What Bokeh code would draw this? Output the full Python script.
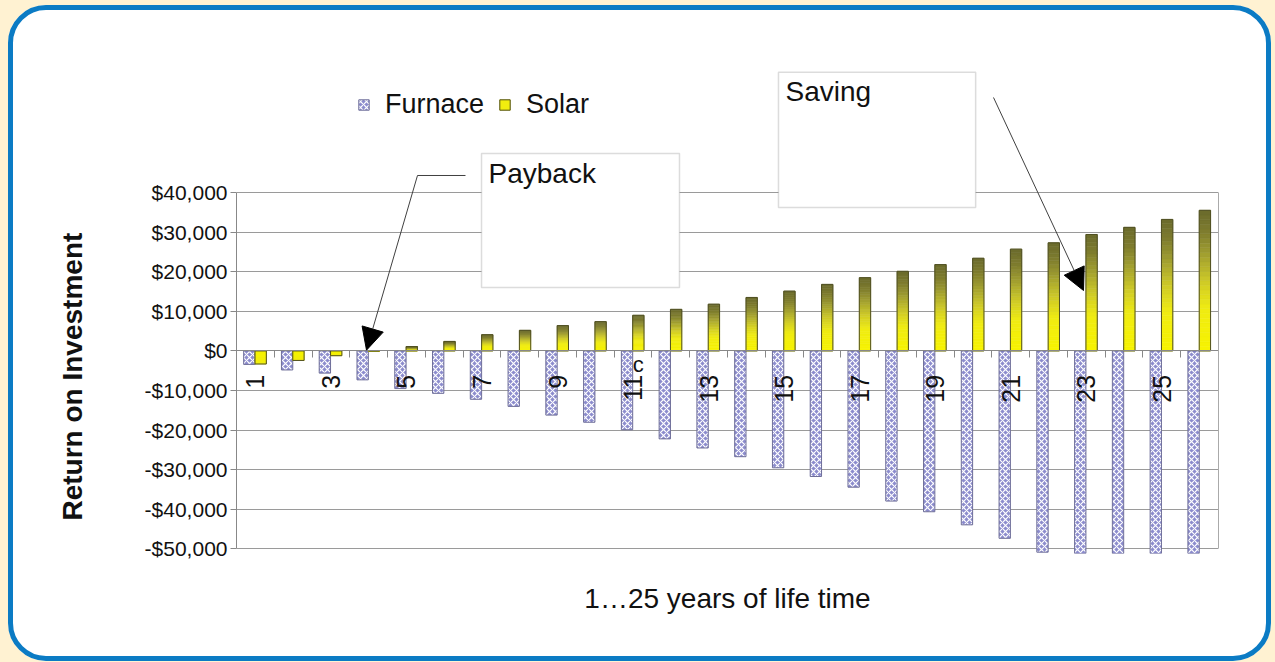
import math
from bokeh.plotting import figure
from bokeh.models import (Range1d, FixedTicker, LinearAxis, Label, BoxAnnotation, Title,
                          Arrow, NormalHead, Legend, LegendItem, ColumnDataSource,
                          InlineStyleSheet)
from bokeh.embed import file_html
from bokeh.resources import INLINE

# ---------------- data ----------------
years = list(range(1, 27))
furnace = [-3400, -4800, -5600, -7300, -9500, -10700, -12200, -14000, -16200, -18000,
           -19900, -22200, -24500, -26700, -29500, -31700, -34400, -37900, -40600, -43900,
           -47300, -50800, -54200, -57600, -61000, -64500]
solar = [-3300, -2400, -1200, 0, 1100, 2400, 4100, 5200, 6400, 7400,
         9000, 10500, 11800, 13500, 15100, 16800, 18500, 20100, 21800, 23400,
         25700, 27300, 29400, 31200, 33200, 35500]
x_tick_values = [1, 3, 5, 7, 9, 11, 13, 15, 17, 19, 21, 23, 25]
x_tick_labels = ["1", "3", "5", "7", "9", "11", "13", "15", "17", "19", "21", "23", "25"]
y_tick_values = [-50000, -40000, -30000, -20000, -10000, 0, 10000, 20000, 30000, 40000]
y_tick_labels = ["-$50,000", "-$40,000", "-$30,000", "-$20,000", "-$10,000", "$0",
                 "$10,000", "$20,000", "$30,000", "$40,000"]
series_names = ["Furnace", "Solar"]
x_title = "1\u202625 years of life time"
y_title = "Return on Investment"

FONT = "Liberation Sans"

# ---------------- figure ----------------
W, H = 1275, 662
p = figure(width=W, height=H, title=None,
           x_range=Range1d(0.5, 26.5), y_range=Range1d(-51137, 80897),
           output_backend="svg", toolbar_location=None,
           min_border_left=236, min_border_right=57, min_border_top=30, min_border_bottom=109)
p.background_fill_color = "white"
p.border_fill_color = "white"
p.outline_line_color = None
p.stylesheets = [InlineStyleSheet(css="""
:host::after {
  content: "";
  position: absolute;
  left: 8px; top: 5px; right: 4px; bottom: 1px;
  box-sizing: border-box;
  border: 5px solid #0b7bc4;
  border-radius: 38px;
  box-shadow: 0 0 0 40px #fff2d2;
  pointer-events: none;
  z-index: 100;
}
""")]

# y axis
yax = p.yaxis[0]
yax.ticker = FixedTicker(ticks=y_tick_values, minor_ticks=[])
yax.major_label_overrides = {v: s for v, s in zip(y_tick_values, y_tick_labels)}
yax.bounds = (-50000, 40000)
yax.major_label_text_font = FONT
yax.major_label_text_font_size = "21px"
yax.major_label_text_color = "#111111"
yax.major_tick_out = 6
yax.major_tick_in = 0
yax.major_tick_line_color = "#888888"
yax.axis_line_color = "#888888"
yax.major_label_standoff = 3

# grid
p.xgrid.visible = False
p.ygrid.ticker = FixedTicker(ticks=y_tick_values, minor_ticks=[])
p.ygrid.grid_line_color = "#9a9a9a"
p.ygrid.grid_line_width = 1

# x axis fixed at zero
xax = p.xaxis[0]
xax.fixed_location = 0
xax.ticker = FixedTicker(ticks=x_tick_values, minor_ticks=[y + 0.5 for y in years[:-1]])
xax.major_label_overrides = {v: s for v, s in zip(x_tick_values, x_tick_labels)}
xax.major_label_orientation = math.pi / 2
xax.major_label_text_font = FONT
xax.major_label_text_font_size = "25px"
xax.major_label_text_color = "#111111"
xax.major_label_standoff = 17
xax.major_tick_line_color = None
xax.major_tick_out = 0
xax.major_tick_in = 0
xax.minor_tick_line_color = "#888888"
xax.minor_tick_out = 7
xax.minor_tick_in = 0
xax.axis_line_color = "#888888"

# right frame edge
rax = LinearAxis(bounds=(-50000, 40000), ticker=FixedTicker(ticks=[], minor_ticks=[]),
                 major_label_text_font_size="0px", axis_line_color="#aaaaaa",
                 major_tick_line_color=None, minor_tick_line_color=None)
p.add_layout(rax, "right")

# axis titles (side-panel titles, not clipped)
xt = Title(text=x_title, align="center", text_font=FONT, text_font_size="28px",
           text_font_style="normal", text_color="#111111", standoff=55, offset=2)
yt = Title(text=y_title, align="left", text_font=FONT, text_font_size="28px",
           text_font_style="bold", text_color="#111111", standoff=108, offset=33)
p.below = [xt, xax]
p.add_layout(yt, "left")

# ---------------- bars ----------------
bw = 0.30
f_src = ColumnDataSource(dict(x=[y - 0.16 for y in years],
                              top=[max(0, v) for v in furnace],
                              bottom=[min(0, v) for v in furnace]))
rf = p.vbar(x="x", width=bw, top="top", bottom="bottom", source=f_src,
            fill_color="#8c8ccd", line_color="#6f6f99", line_width=1,
            hatch_pattern="x", hatch_color="white", hatch_scale=6, hatch_weight=1.2)

stops = [(0.0, (247, 243, 0)), (0.3, (240, 236, 18)), (0.5, (205, 201, 40)),
         (0.7, (158, 156, 48)), (0.85, (126, 124, 46)), (1.0, (106, 106, 44))]


def grad(t):
    for (t0, c0), (t1, c1) in zip(stops[:-1], stops[1:]):
        if t <= t1:
            f = (t - t0) / (t1 - t0) if t1 > t0 else 0
            return "#%02x%02x%02x" % tuple(int(round(a + (b - a) * f)) for a, b in zip(c0, c1))
    return "#%02x%02x%02x" % stops[-1][1]


N = 30
sx, stop_, sbot, scol = [], [], [], []
for y, v in zip(years, solar):
    lo, hi = min(0, v), max(0, v)
    for k in range(N):
        b = lo + (hi - lo) * k / N
        t = lo + (hi - lo) * (k + 1) / N
        frac = (k + 0.5) / N
        sx.append(y + 0.14)
        sbot.append(b)
        stop_.append(t)
        scol.append(grad(frac) if v > 0 else grad(0.25 * (1 - frac)))
s_src = ColumnDataSource(dict(x=sx, top=stop_, bottom=sbot, color=scol))
rs = p.vbar(x="x", width=bw, top="top", bottom="bottom", source=s_src,
            fill_color="color", line_color="color", line_width=0.6)
o_src = ColumnDataSource(dict(x=[y + 0.14 for y in years],
                              top=[max(0, v) for v in solar],
                              bottom=[min(0, v) for v in solar]))
ro = p.vbar(x="x", width=bw, top="top", bottom="bottom", source=o_src,
            fill_color=None, line_color="#4f4f22", line_width=1)

# ---------------- legend ----------------
legend = Legend(items=[LegendItem(label=series_names[0], renderers=[rf], index=0),
                       LegendItem(label=series_names[1], renderers=[rs, ro], index=0)],
                location=(121, 433), orientation="horizontal",
                label_text_font=FONT, label_text_font_size="27px", label_text_color="#111111",
                glyph_width=13, glyph_height=13, label_standoff=15, spacing=14,
                padding=0, margin=0, border_line_color=None, background_fill_alpha=0)
p.add_layout(legend)

# ---------------- call-outs ----------------
box_style = dict(fill_color="white", fill_alpha=1, line_color="#8c8c8c", line_width=1.5)
p.add_layout(BoxAnnotation(left=6.987, right=12.229, top=49874, bottom=16018, **box_style))
p.add_layout(BoxAnnotation(left=14.85, right=20.07, top=70340, bottom=36230, **box_style))
p.add_layout(Label(x=7.172, y=48835, text="Payback", text_font=FONT, text_font_size="28px",
                   text_align="left", text_baseline="top", text_color="#111111"))
p.add_layout(Label(x=15.036, y=69536, text="Saving", text_font=FONT, text_font_size="28px",
                   text_align="left", text_baseline="top", text_color="#111111"))

p.add_layout(Arrow(end=None, x_start=6.563, y_start=44294, x_end=5.292, y_end=44294,
                   line_color="#404040", line_width=1))
p.add_layout(Arrow(end=NormalHead(size=22, fill_color="black", line_color="black"),
                   x_start=5.292, y_start=44294, x_end=3.942, y_end=200,
                   line_color="#404040", line_width=1))
p.add_layout(Arrow(end=NormalHead(size=22, fill_color="black", line_color="black"),
                   x_start=20.543, y_start=63983, x_end=22.926, y_end=15260,
                   line_color="#404040", line_width=1))

# stray "c" near tick 11
p.add_layout(Label(x=11.14, y=-3423, text="c", text_font=FONT, text_font_size="22px",
                   text_align="center", text_baseline="middle", text_color="#111111"))

open("out.html", "w").write(file_html(p, INLINE))
